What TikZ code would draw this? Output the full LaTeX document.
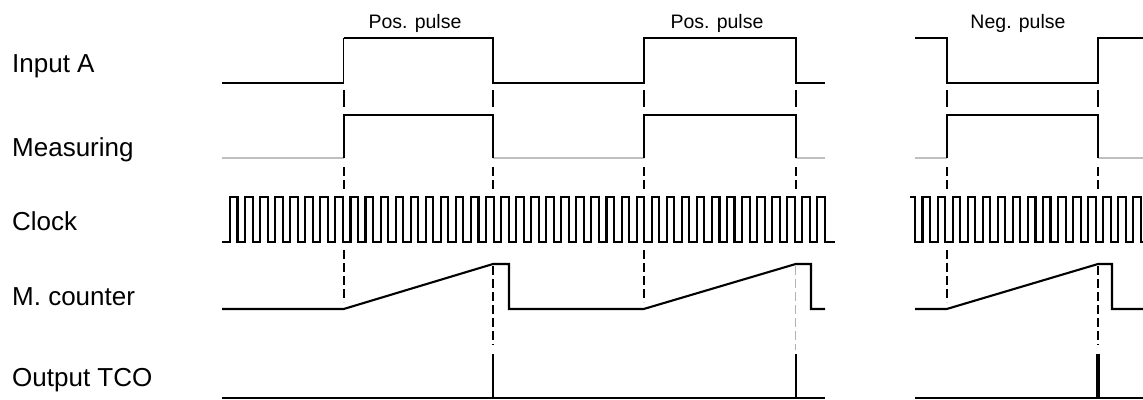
\documentclass[tikz,border=0pt]{standalone}
\usepackage{fontspec}
\setmainfont{Liberation Sans}
\begin{document}
\begin{tikzpicture}[x=1pt,y=-1pt,
  sig/.style={line width=2.1pt,line join=miter},
  thinsig/.style={line width=1.2pt},
  graysig/.style={line width=1.1pt,draw=black!25},
  vdash/.style={line width=2pt,dash pattern=on 9pt off 4pt},
  vsolid/.style={line width=2pt},
  lightdash/.style={line width=1pt,draw=black!30,dash pattern=on 9pt off 4pt},
  lbl/.style={anchor=base west,inner sep=0pt,font=\fontsize{26}{30}\selectfont},
  plbl/.style={anchor=base,inner sep=0pt,font=\fontsize{19.5}{22}\selectfont}]
\useasboundingbox (0,0) rectangle (1143,399);
% labels
\node[lbl] (lA) at (12,72.5) {Input A};
\node[lbl] (lM) at (12,156) {Measuring};
\node[lbl] (lC) at (12,230) {Clock};
\node[lbl] (lK) at (12,305) {M. counter};
\node[lbl] (lT) at (12,386.5) {Output TCO};
\node[plbl] (p1) at (415,28.5) {Pos. pulse};
\node[plbl] (p2) at (717,28.5) {Pos. pulse};
\node[plbl] (p3) at (1018,28.5) {Neg. pulse};
% Input A
\draw[thinsig] (222,83) -- (343.7,83) -- (343.7,38);
\draw[sig] (343.7,38) -- (493,38) -- (493,83) -- (643.7,83) -- (643.7,38) -- (795.7,38) -- (795.7,83) -- (825,83);
\draw[sig] (915,38) -- (946.7,38) -- (946.7,83) -- (1098,83) -- (1098,38) -- (1143,38);
% Measuring
\draw[graysig] (222,158) -- (343.7,158);
\draw[graysig] (493,158) -- (643.7,158);
\draw[graysig] (795.7,158) -- (825,158);
\draw[graysig] (915,158) -- (946.7,158);
\draw[graysig] (1098,158) -- (1143,158);
\draw[sig] (343.7,158) -- (343.7,115) -- (493,115) -- (493,158);
\draw[sig] (643.7,158) -- (643.7,115) -- (795.7,115) -- (795.7,158);
\draw[sig] (946.7,158) -- (946.7,115) -- (1098,115) -- (1098,158);
% Clock
\draw[sig] (222,242) foreach \k in {0,...,39}{ -- ({230+15.06*\k},242) -- ++(0,-45) -- ++(7.53,0) -- ++(0,45) } -- (835,242);
\draw[sig] (910,197) -- (915,197) -- (915,242) foreach \k in {0,...,14}{ -- ({922.5+15.06*\k},242) -- ++(0,-45) -- ++(7.53,0) -- ++(0,45) } -- (1143,242);
% M. counter
\draw[sig] (222,309) -- (343.7,309) -- (493,264) -- (509,264) -- (509,309) -- (643.7,309) -- (795.7,264) -- (811,264) -- (811,309) -- (825,309);
\draw[sig] (915,309) -- (946.7,309) -- (1098,264) -- (1112,264) -- (1112,309) -- (1143,309);
% Output TCO
\draw[line width=1.5pt] (222,397.8) -- (825,397.8);
\draw[line width=1.5pt] (915,397.8) -- (1143,397.8);
\draw[line width=2.4pt] (493,354) -- (493,397.8);
\draw[line width=2.4pt] (795.7,354) -- (795.7,397.8);
\draw[line width=4.5pt] (1098,354) -- (1098,397.8);
% dashed markers
\foreach \x in {343.7,493,643.7,795.7,946.7,1098}{
  \draw[vsolid] (\x,90) -- (\x,107);
  \draw[vdash] (\x,167) -- (\x,190);
}
\foreach \x in {343.7,643.7,946.7}{
  \draw[vdash] (\x,250) -- (\x,302);
}
\foreach \x in {493,1098}{
  \draw[vdash] (\x,266) -- (\x,345);
}
\draw[lightdash] (795.7,266) -- (795.7,350);
\end{tikzpicture}
\end{document}
